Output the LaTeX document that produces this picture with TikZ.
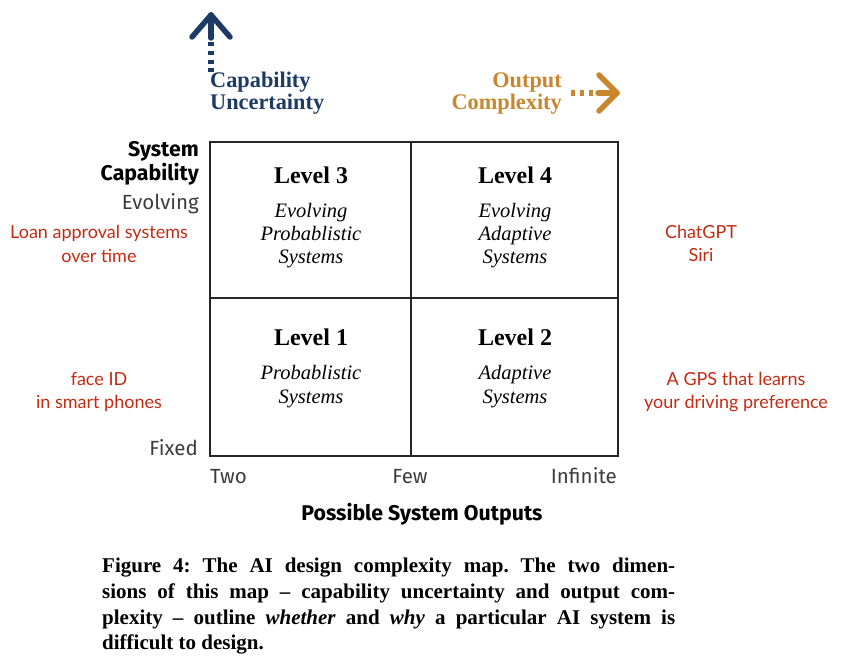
\documentclass[tikz,border=0pt]{standalone}
\usepackage{fontspec}
\setmainfont{Liberation Serif}
\newfontfamily\firasans{Fira Sans}
\newfontfamily\gillsans{Lato}
\definecolor{capblue}{HTML}{1C3A63}
\definecolor{outgold}{HTML}{C8872E}
\definecolor{exred}{HTML}{C42A12}
\definecolor{axgray}{HTML}{3C3C3C}
\frenchspacing
\begin{document}
\begin{tikzpicture}[x=1pt,y=-1pt,
  cell/.style={draw=black!85, line width=2pt, inner sep=0pt, outer sep=0pt, anchor=north west},
  lvl/.style={font=\fontsize{24}{28}\selectfont\bfseries, anchor=base, inner sep=0pt},
  ital/.style={font=\fontsize{20.5}{23}\selectfont\itshape, anchor=base, inner sep=0pt},
  dimlab/.style={font=\fontsize{22.3}{26}\selectfont\bfseries, inner sep=0pt},
  axhead/.style={font=\firasans\fontsize{21.3}{24}\selectfont\bfseries, inner sep=0pt},
  axtick/.style={font=\firasans\fontsize{20.5}{24}\selectfont, text=axgray, inner sep=0pt},
  example/.style={font=\gillsans\fontsize{18}{22}\selectfont, text=exred, anchor=base, inner sep=0pt},
  capline/.style={font=\fontsize{21}{25}\selectfont\bfseries, anchor=base west, inner sep=0pt},
  arrowline/.style={line width=5.5pt, line cap=round, line join=round}
]
\useasboundingbox (0,0) rectangle (849,668);

% grid cells
\node[cell, minimum width=201pt, minimum height=156pt] (c3) at (210,142) {};
\node[cell, minimum width=207pt, minimum height=156pt] (c4) at (411,142) {};
\node[cell, minimum width=201pt, minimum height=158pt] (c1) at (210,298) {};
\node[cell, minimum width=207pt, minimum height=158pt] (c2) at (411,298) {};

% cell texts
\node[lvl] (l3) at (311,184) {Level 3};
\node[ital] (l3a) at (311,218) {Evolving};
\node[ital] (l3b) at (311,241) {Probablistic};
\node[ital] (l3c) at (311,264) {Systems};
\node[lvl] (l4) at (515,184) {Level 4};
\node[ital] (l4a) at (515,218) {Evolving};
\node[ital] (l4b) at (515,241) {Adaptive};
\node[ital] (l4c) at (515,264) {Systems};
\node[lvl] (l1) at (311,345) {Level 1};
\node[ital] (l1a) at (311,380) {Probablistic};
\node[ital] (l1b) at (311,403) {Systems};
\node[lvl] (l2) at (515,345) {Level 2};
\node[ital] (l2a) at (515,380) {Adaptive};
\node[ital] (l2b) at (515,403) {Systems};

% capability uncertainty
\node[dimlab, text=capblue, anchor=base west] (cu1) at (210,88) {Capability};
\node[dimlab, text=capblue, anchor=base west] (cu2) at (210,110) {Uncertainty};
\coordinate (upTip) at (211,15);
\draw[capblue, arrowline] ([shift={(-19,22)}]upTip) -- (upTip) -- ([shift={(19,22)}]upTip);
\draw[capblue, arrowline] (upTip) -- ([shift={(0,23)}]upTip);
\foreach \d in {29,38,47,55}
  \fill[capblue] ([shift={(-3.3,\d-2.4)}]upTip) rectangle ([shift={(3.3,\d+2.4)}]upTip);

% output complexity
\node[dimlab, text=outgold, anchor=base east] (oc1) at (562,88) {Output};
\node[dimlab, text=outgold, anchor=base east] (oc2) at (562,110) {Complexity};
\coordinate (rtTip) at (617,93);
\draw[outgold, arrowline] ([shift={(-18,-18)}]rtTip) -- (rtTip) -- ([shift={(-18,18)}]rtTip);
\draw[outgold, arrowline] (rtTip) -- ([shift={(-19,0)}]rtTip);
\foreach \d in {44,35,26}
  \fill[outgold] ([shift={(-\d-2.4,-3)}]rtTip) rectangle ([shift={(-\d+2.4,3)}]rtTip);

% axis labels
\node[axhead, anchor=base east] (sc1) at (199,157) {System};
\node[axhead, anchor=base east] (sc2) at (199,181) {Capability};
\node[axtick, anchor=base east] (ev) at (199,210) {Evolving};
\node[axtick, anchor=base east] (fx) at (198,455) {Fixed};
\node[axtick, anchor=base west] (two) at (210,483) {Two};
\node[axtick, anchor=base] (few) at (410,483) {Few};
\node[axtick, anchor=base east] (inf) at (617,483) {Infinite};
\node[axhead, anchor=base] (pso) at (422,520) {Possible System Outputs};

% examples
\node[example] (ex3a) at (99,239) {Loan approval systems};
\node[example] (ex3b) at (99,263) {over time};
\node[example] (ex4a) at (701,239) {ChatGPT};
\node[example] (ex4b) at (701,262) {Siri};
\node[example] (ex1a) at (99,385) {face ID};
\node[example] (ex1b) at (99,408) {in smart phones};
\node[example] (ex2a) at (736,385) {A GPS that learns};
\node[example] (ex2b) at (736,408) {your driving preference};

% caption
\node[capline] (cap1) at (102,572) {\makebox[573pt][s]{Figure 4: The AI design complexity map. The two dimen-}};
\node[capline] (cap2) at (102,598) {\makebox[573pt][s]{sions of this map -- capability uncertainty and output com-}};
\node[capline] (cap3) at (102,624) {\makebox[573pt][s]{plexity -- outline \textit{whether} and \textit{why} a particular AI system is}};
\node[capline] (cap4) at (102,649) {difficult to design.};
\end{tikzpicture}
\end{document}
